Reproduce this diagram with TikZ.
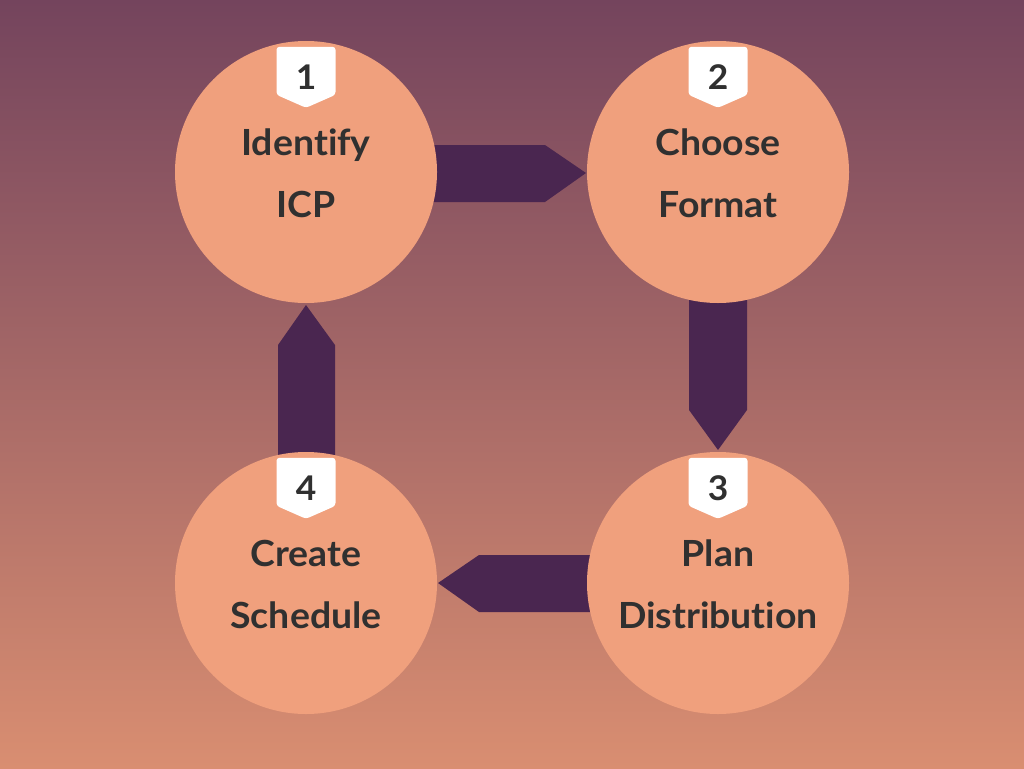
\documentclass[tikz,border=0pt]{standalone}
\usepackage{fontspec}
\setmainfont[Ligatures={NoCommon},FakeStretch=1.04]{Lato}
\usetikzlibrary{calc}
\definecolor{bgtop}{HTML}{74445D}
\definecolor{bgbot}{HTML}{D98E71}
\definecolor{circ}{HTML}{F0A07D}
\definecolor{arr}{HTML}{4A2650}
\definecolor{txt}{HTML}{303030}
\tikzset{
  stepcircle/.style={circle, fill=circ, draw=none, minimum size=262pt, inner sep=0pt},
  steptext/.style={text=txt, font=\fontsize{36}{40}\selectfont\bfseries, anchor=base, inner sep=0pt},
  numtext/.style={text=txt, font=\fontsize{34}{38}\selectfont\bfseries, anchor=base, inner sep=0pt},
  arrowshape/.style={fill=arr, draw=none},
  badge/.style={fill=white, draw=none, rounded corners=3pt}
}
\begin{document}
\begin{tikzpicture}[x=1pt,y=-1pt]
\shade[top color=bgtop, bottom color=bgbot] (0,0) rectangle (1024,768);
\useasboundingbox (0,0) rectangle (1024,768);
% arrows (drawn first, circles cover their ends)
\coordinate (a1s) at (400,173);
\fill[arrowshape] (a1s |- 0,145) -- (545,145) -- (586,173) -- (545,202) -- (a1s |- 0,202) -- cycle;
\fill[arrowshape] (689,260) -- (747,260) -- (747,410) -- (718,450) -- (689,410) -- cycle;
\fill[arrowshape] (640,555) -- (479,555) -- (438,583) -- (479,612) -- (640,612) -- cycle;
\fill[arrowshape] (278,490) -- (278,345) -- (306,305) -- (335,345) -- (335,490) -- cycle;
% circles
\node[stepcircle] (c1) at (306,172) {};
\node[stepcircle] (c2) at (718,172) {};
\node[stepcircle] (c3) at (718,583) {};
\node[stepcircle] (c4) at (306,583) {};
% badges
\foreach \n/\c in {1/c1,2/c2,3/c3,4/c4}{
  \path (\c.north) coordinate (t\n);
  \fill[badge] ($(t\n)+(-29.5,6)$) -- ($(t\n)+(29.5,6)$) -- ($(t\n)+(29.5,54)$) -- ($(t\n)+(0,67)$) -- ($(t\n)+(-29.5,54)$) -- cycle;
  \node[numtext] (n\n) at ($(t\n)+(0,49)$) {\n};
}
% labels
\node[steptext] (l1a) at ($(c1)+(0,-17)$) {Identify};
\node[steptext] (l1b) at ($(c1)+(0,45)$) {ICP};
\node[steptext] (l2a) at ($(c2)+(0,-17)$) {Choose};
\node[steptext] (l2b) at ($(c2)+(0,45)$) {Format};
\node[steptext] (l3a) at ($(c3)+(0,-17)$) {Plan};
\node[steptext] (l3b) at ($(c3)+(0,45)$) {Distribution};
\node[steptext] (l4a) at ($(c4)+(0,-17)$) {Create};
\node[steptext] (l4b) at ($(c4)+(0,45)$) {Schedule};
\end{tikzpicture}
\end{document}
